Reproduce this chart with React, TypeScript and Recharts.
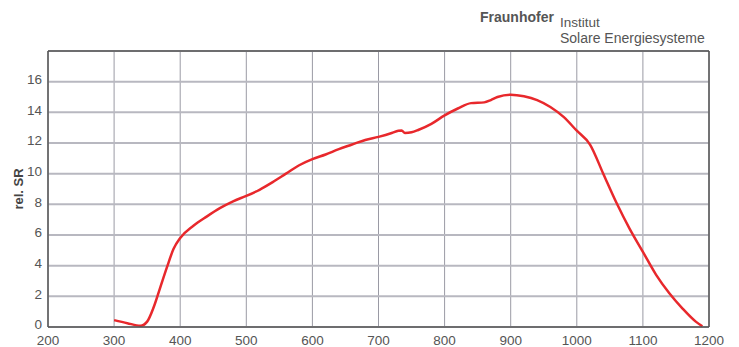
import { LineChart, Line, XAxis, YAxis, CartesianGrid, ReferenceLine } from 'recharts';

// wavelength in nm
const wavelengths = [
  300, 320, 340, 350, 360, 370, 380, 390, 400, 420, 440, 460, 480, 500, 520, 540, 560, 580, 600,
  620, 640, 660, 680, 700, 720, 730, 735, 740, 750, 760, 780, 800, 820, 840, 860, 870, 880, 900,
  920, 940, 960, 980, 1000, 1020, 1040, 1060, 1080, 1100, 1120, 1140, 1160, 1180, 1190,
];
// relative spectral response
const relSR = [
  0.45, 0.25, 0.08, 0.35, 1.3, 2.6, 3.9, 5.1, 5.8, 6.6, 7.2, 7.75, 8.2, 8.55, 8.95, 9.45, 10.0, 10.55, 10.95,
  11.25, 11.6, 11.9, 12.2, 12.4, 12.65, 12.8, 12.82, 12.65, 12.7, 12.85, 13.25, 13.8, 14.25, 14.6, 14.65, 14.8, 15.0, 15.15,
  15.05, 14.8, 14.35, 13.7, 12.8, 11.9, 10.0, 8.1, 6.4, 4.9, 3.4, 2.2, 1.2, 0.35, 0.05,
];
const xTicks = [200, 300, 400, 500, 600, 700, 800, 900, 1000, 1100, 1200];
const yTicks = [0, 2, 4, 6, 8, 10, 12, 14, 16];

const data = wavelengths.map((w, i) => ({ w, sr: relSR[i] }));

const font = '"Liberation Sans", Arial, sans-serif';
const textGray = '#555';
const frame = '#555';

function YLabel({ viewBox }: { viewBox?: { x: number; y: number; width: number; height: number } }) {
  if (!viewBox) return null;
  const cx = 18;
  const cy = viewBox.y + viewBox.height / 2;
  return (
    <text
      x={cx}
      y={cy}
      transform={`rotate(-90, ${cx}, ${cy})`}
      textAnchor="middle"
      dominantBaseline="central"
      fontFamily={font}
      fontSize={13}
      fontWeight="bold"
      fill="#444"
    >
      rel. SR
    </text>
  );
}

const headerText = {
  position: 'absolute' as const,
  fontFamily: font,
  fontSize: 13.5,
  lineHeight: '14px',
  color: textGray,
  whiteSpace: 'nowrap' as const,
};

export default function App() {
  return (
    <div style={{ position: 'absolute', left: 0, top: 0, width: 739, height: 347, background: '#fff' }}>
      <div style={{ ...headerText, left: 480, top: 10, fontSize: 14, fontWeight: 'bold' }}>Fraunhofer</div>
      <div style={{ ...headerText, left: 560, top: 15.5 }}>Institut</div>
      <div style={{ ...headerText, left: 560, top: 30.5, fontSize: 14 }}>Solare Energiesysteme</div>
      <LineChart
        width={739}
        height={347}
        data={data}
        margin={{ top: 51, right: 30, bottom: 0, left: 0 }}
      >
        <CartesianGrid horizontal={false} vertical stroke="#9a9aa4" strokeWidth={1} />
        <CartesianGrid vertical={false} horizontal stroke="#b8b8c0" strokeWidth={2} />
        <XAxis
          dataKey="w"
          type="number"
          domain={[200, 1200]}
          ticks={xTicks}
          tickLine={false}
          tickSize={4}
          tickMargin={4}
          height={20}
          axisLine={{ stroke: frame, strokeWidth: 1.5 }}
          tick={{ fill: textGray, fontSize: 13.5, fontFamily: font }}
          interval={0}
        />
        <YAxis
          type="number"
          domain={[0, 18]}
          ticks={yTicks}
          width={48}
          tickLine={false}
          tickSize={4}
          tickMargin={2}
          axisLine={{ stroke: frame, strokeWidth: 1.5 }}
          tick={{ fill: textGray, fontSize: 13.5, fontFamily: font, dy: -2.5 }}
          interval={0}
          label={<YLabel />}
        />
        <ReferenceLine y={18} stroke={frame} strokeWidth={1.5} ifOverflow="visible" />
        <ReferenceLine x={1200} stroke={frame} strokeWidth={1.5} ifOverflow="visible" />
        <Line
          type="monotone"
          dataKey="sr"
          stroke="#e8282c"
          strokeWidth={2.5}
          dot={false}
          isAnimationActive={false}
        />
      </LineChart>
    </div>
  );
}
